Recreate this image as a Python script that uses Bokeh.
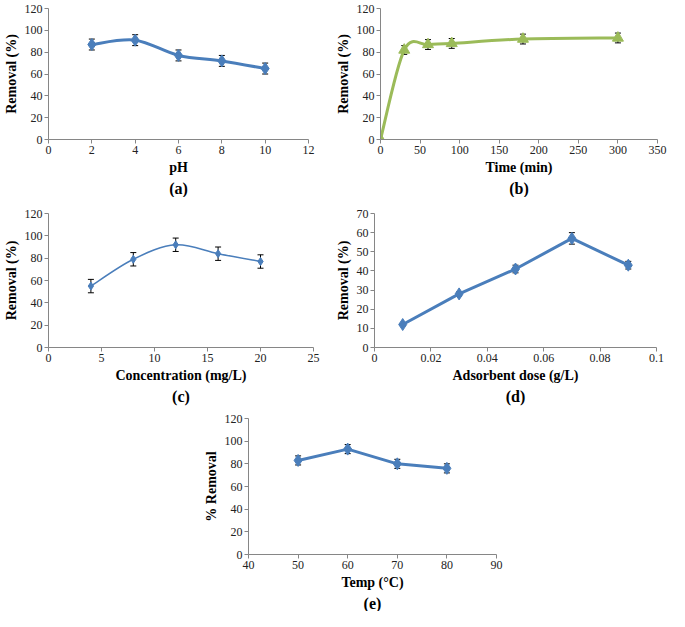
from bokeh.plotting import figure
from bokeh.models import Range1d, FixedTicker, Whisker, ColumnDataSource, TeeHead, Title, Spacer
from bokeh.layouts import column, row
from bokeh.embed import file_html
from bokeh.resources import INLINE

# ---------------- data ----------------
# (a) pH
ph = [2, 4, 6, 8, 10]
ph_removal = [87, 91, 77, 72, 65]
ph_err = [5, 5, 5, 5, 5]
ph_xticks = [0, 2, 4, 6, 8, 10, 12]

# (b) contact time
time_min = [0, 30, 60, 90, 180, 300]
time_removal = [0, 82, 87, 88, 92, 93]
time_err = [0, 4, 4.5, 4.5, 4.5, 4.5]
time_xticks = [0, 50, 100, 150, 200, 250, 300, 350]

# (c) concentration
conc = [4, 8, 12, 16, 20]
conc_removal = [55, 79, 92, 84, 77]
conc_err = [6, 6, 6, 6, 6]
conc_xticks = [0, 5, 10, 15, 20, 25]

# (d) adsorbent dose
dose = [0.01, 0.03, 0.05, 0.07, 0.09]
dose_removal = [12, 28, 41, 57, 43]
dose_err = [0.5, 1, 2, 3, 2]
dose_xticks = [0, 0.02, 0.04, 0.06, 0.08, 0.1]
dose_xlabels = ["0", "0.02", "0.04", "0.06", "0.08", "0.1"]

# (e) temperature
temp = [50, 60, 70, 80]
temp_removal = [83, 93, 80, 76]
temp_err = [4, 4, 4, 4]
temp_xticks = [40, 50, 60, 70, 80, 90]

removal_ticks_120 = [0, 20, 40, 60, 80, 100, 120]
removal_ticks_70 = [0, 10, 20, 30, 40, 50, 60, 70]

BLUE = "#4A7EBB"
GREEN = "#9BBB59"
FONT = "'Liberation Serif', 'Times New Roman', serif"


def smooth_source(xs, ys):
    """Bezier segments (Excel-style smoothed line) through the data points."""
    n = len(xs)
    d = dict(x0=[], y0=[], x1=[], y1=[], cx0=[], cy0=[], cx1=[], cy1=[])
    for i in range(n - 1):
        a = max(i - 1, 0)
        b = min(i + 2, n - 1)
        d["x0"].append(xs[i]); d["y0"].append(ys[i])
        d["x1"].append(xs[i + 1]); d["y1"].append(ys[i + 1])
        d["cx0"].append(xs[i] + (xs[i + 1] - xs[a]) / 6)
        d["cy0"].append(ys[i] + (ys[i + 1] - ys[a]) / 6)
        d["cx1"].append(xs[i + 1] - (xs[b] - xs[i]) / 6)
        d["cy1"].append(ys[i + 1] - (ys[b] - ys[i]) / 6)
    return ColumnDataSource(d)


def make_fig(w, h, xr, yr, xticks, yticks, borders):
    l, r, t, b = borders
    p = figure(width=w, height=h, x_range=Range1d(*xr), y_range=Range1d(*yr),
               output_backend="svg", toolbar_location=None,
               min_border_left=l, min_border_right=r, min_border_top=t, min_border_bottom=b)
    p.xaxis.ticker = FixedTicker(ticks=xticks)
    p.yaxis.ticker = FixedTicker(ticks=yticks)
    return p


def style(p, xlab, ylab, tag):
    p.xgrid.visible = False
    p.ygrid.visible = False
    p.outline_line_color = None
    p.background_fill_color = "white"
    p.border_fill_color = "white"
    for ax in (p.xaxis[0], p.yaxis[0]):
        ax.axis_line_color = "#868686"
        ax.major_tick_line_color = "#868686"
        ax.major_tick_out = 4
        ax.major_tick_in = 0
        ax.minor_tick_line_color = None
        ax.major_label_text_font = FONT
        ax.major_label_text_font_size = "12px"
        ax.major_label_text_color = "#222222"
        ax.axis_label_text_font = FONT
        ax.axis_label_text_font_style = "bold"
        ax.axis_label_text_font_size = "14px"
        ax.axis_label_text_color = "black"
        ax.major_label_standoff = 2
        ax.axis_label_standoff = 3
    p.xaxis.axis_label = xlab
    p.yaxis.axis_label = ylab
    p.add_layout(Title(text=tag, align="center", text_font=FONT, text_font_size="16px",
                       text_font_style="bold", text_color="black", standoff=0), "below")


def errbars(p, xs, ys, errs):
    src = ColumnDataSource(dict(x=xs, upper=[y + e for y, e in zip(ys, errs)],
                                lower=[y - e for y, e in zip(ys, errs)]))
    p.add_layout(Whisker(base="x", upper="upper", lower="lower", source=src,
                         line_color="black", line_width=1,
                         upper_head=TeeHead(size=6, line_color="black", line_width=1),
                         lower_head=TeeHead(size=6, line_color="black", line_width=1)))


# (a)
pa = make_fig(332, 197, (0, 12), (0, 120), ph_xticks, removal_ticks_120, (34, 24, 4, 58))
pa.bezier(x0="x0", y0="y0", x1="x1", y1="y1", cx0="cx0", cy0="cy0", cx1="cx1", cy1="cy1",
          source=smooth_source(ph, ph_removal), line_color=BLUE, line_width=3)
pa.scatter(ph, ph_removal, marker="diamond", size=12, color=BLUE)
errbars(pa, ph, ph_removal, ph_err)
style(pa, "pH", "Removal (%)", "(a)")

# (b)
pb = make_fig(337, 197, (0, 350), (0, 120), time_xticks, removal_ticks_120, (41, 12, 8, 58))
pb.bezier(x0="x0", y0="y0", x1="x1", y1="y1", cx0="cx0", cy0="cy0", cx1="cx1", cy1="cy1",
          source=smooth_source(time_min, time_removal), line_color=GREEN, line_width=3)
pb.scatter(time_min, time_removal, marker="triangle", size=11, color=GREEN)
errbars(pb, time_min[1:], time_removal[1:], time_err[1:])
style(pb, "Time (min)", "Removal (%)", "(b)")

# (c)
pc = make_fig(332, 210, (0, 25), (0, 120), conc_xticks, removal_ticks_120, (34, 19, 16, 60))
pc.bezier(x0="x0", y0="y0", x1="x1", y1="y1", cx0="cx0", cy0="cy0", cx1="cx1", cy1="cy1",
          source=smooth_source(conc, conc_removal), line_color=BLUE, line_width=1.5)
pc.scatter(conc, conc_removal, marker="diamond", size=8, color=BLUE)
errbars(pc, conc, conc_removal, conc_err)
style(pc, "Concentration (mg/L)", "Removal (%)", "(c)")

# (d)
pd_ = make_fig(337, 210, (0, 0.1), (0, 70), dose_xticks, removal_ticks_70, (41, 13, 10, 60))
pd_.line(dose, dose_removal, line_color=BLUE, line_width=3)
pd_.scatter(dose, dose_removal, marker="diamond", size=12, color=BLUE)
errbars(pd_, dose, dose_removal, dose_err)
style(pd_, "Adsorbent dose (g/L)", "Removal (%)", "(d)")
pd_.xaxis.major_label_overrides = {t: s for t, s in zip(dose_xticks, dose_xlabels)}

# (e)
pe = make_fig(322, 204, (40, 90), (0, 120), temp_xticks, removal_ticks_120, (44, 26, 11, 50))
pe.line(temp, temp_removal, line_color=BLUE, line_width=3)
pe.scatter(temp, temp_removal, marker="diamond", size=12, color=BLUE)
errbars(pe, temp, temp_removal, temp_err)
style(pe, "Temp (\u00b0C)", "% Removal", "(e)")

layout = column(row(pa, pb), row(pc, pd_), row(Spacer(width=200, height=10), pe))

open("out.html", "w").write(file_html(layout, INLINE))
